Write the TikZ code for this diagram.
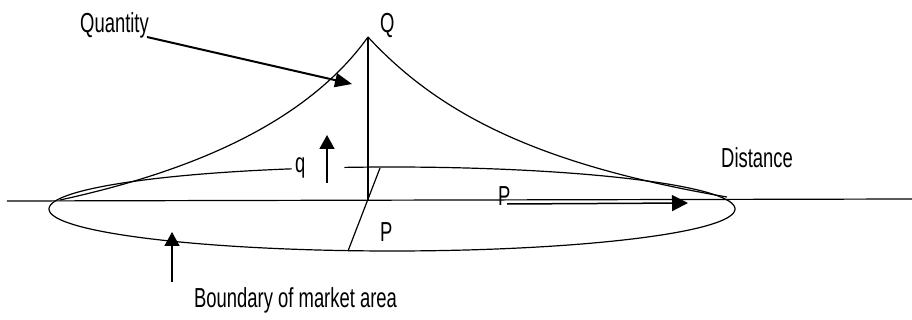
\documentclass[tikz,border=0pt]{standalone}
\usepackage{fontspec}
\setmainfont{Liberation Sans}
\usetikzlibrary{arrows.meta}
\newcommand{\nar}[1]{\scalebox{0.67}[1]{#1}}
\begin{document}
\begin{tikzpicture}[x=1pt,y=-1pt,
  lbl/.style={inner sep=0pt, anchor=base west, font=\fontsize{27.5}{27.5}\selectfont},
  ln/.style={line width=1.2pt},
  bigarrow/.style={line width=2pt,-{Triangle[length=17pt,width=14pt]}},
  midarrow/.style={line width=1.8pt,-{Triangle[length=14pt,width=15pt]}}]
\useasboundingbox (0,0) rectangle (912,320);
% named points
\coordinate (apex) at (368,37);
\coordinate (foot) at (368,201);
\coordinate (ltip) at (60,200);
\coordinate (rtip) at (727,197);
\coordinate (axl) at (7,201);
\coordinate (axr) at (912,199);
\coordinate (qs) at (147,37);
\coordinate (qe) at (352,84);
\coordinate (up1) at (327,183);
\coordinate (up2) at (327,135);
\coordinate (bs) at (172,282);
\coordinate (be) at (172,232);
\coordinate (ps) at (507,204);
\coordinate (pe) at (688,203);
\coordinate (sl1) at (380,168);
\coordinate (sl2) at (348,251);
% labels
\node[lbl] (quantity) at (80,33) {\nar{Quantity}};
\node[lbl] (Qlab) at (380,33) {\nar{Q}};
\node[lbl] (qlab) at (295,173) {\nar{q}};
\node[lbl] (Plow) at (380,242) {\nar{P}};
\node[lbl] (Pup) at (498,206) {\nar{P}};
\node[lbl] (distance) at (721,168) {\nar{Distance}};
\node[lbl] (boundary) at (194,307) {\nar{Boundary of market area}};
% axis
\draw[ln] (axl) -- (axr);
% ellipse (base of market area)
\draw[ln] plot[domain=0:180,samples=90] ({392+343*cos(\x)},{209+42*sin(\x)});
\draw[ln] plot[domain=180:253,samples=60] ({392+343*cos(\x)},{209+42*sin(\x)});
\draw[ln] plot[domain=262:360,samples=80] ({392+343*cos(\x)},{209+42*sin(\x)});
% cone curves
\draw[ln] (apex) .. controls (300,132) and (170,176) .. (ltip);
\draw[ln] (apex) .. controls (440,115) and (540,165) .. (rtip);
% vertical quantity line
\draw[line width=2pt] (apex) -- (foot);
% radius in perspective
\draw[ln] (sl1) -- (sl2);
% arrows
\draw[bigarrow] (qs) -- (qe);
\draw[midarrow] (up1) -- (up2);
\draw[midarrow] (bs) -- (be);
\draw[line width=1.5pt,-{Triangle[length=16pt,width=16pt]}] (ps) -- (pe);
\end{tikzpicture}
\end{document}
